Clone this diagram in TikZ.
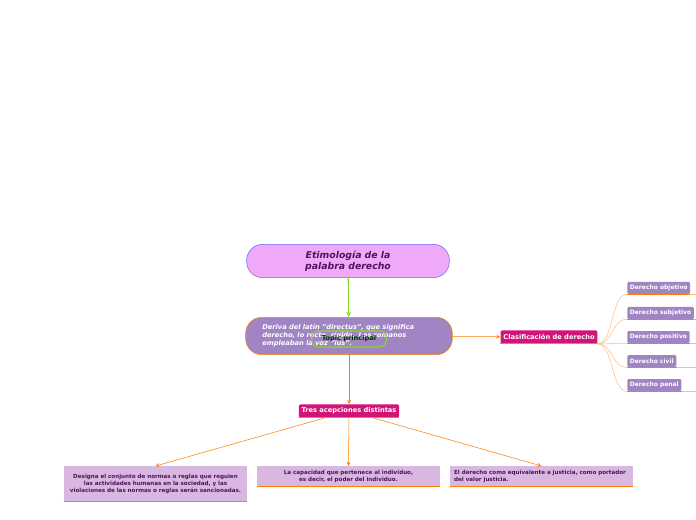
\documentclass[tikz,border=0pt]{standalone}
\usepackage{fontspec}
\setmainfont{DejaVu Sans}
\definecolor{rose}{RGB}{240,168,248}
\definecolor{violet}{RGB}{160,132,196}
\definecolor{magenta}{RGB}{210,20,120}
\definecolor{lilas}{RGB}{216,184,224}
\definecolor{vert}{RGB}{140,216,40}
\definecolor{encre}{RGB}{80,20,90}
\hyphenpenalty=10000
\begin{document}
\begin{tikzpicture}[x=0.75pt,y=-0.75pt]
		\tikzstyle{racine} = [rounded corners=12pt,draw=blue!60,fill=rose,minimum width=152pt,minimum height=25pt,text width=110pt,align=center,font=\bfseries\itshape\fontsize{7}{8}\selectfont,text=encre]
		\tikzstyle{central} = [rounded corners=12pt,draw=orange,fill=violet,minimum width=155pt,minimum height=28pt,text width=130pt,align=left,font=\bfseries\itshape\fontsize{5}{6}\selectfont,text=white]
		\tikzstyle{titre} = [fill=magenta,text=white,font=\bfseries\fontsize{5}{6}\selectfont,inner sep=2pt,minimum height=10pt,rounded corners=1pt]
		\tikzstyle{feuille} = [fill=violet,text=white,font=\bfseries\fontsize{4.5}{6}\selectfont,inner sep=2pt,minimum height=9pt,rounded corners=1pt]
		\tikzstyle{texte} = [fill=lilas,font=\bfseries\fontsize{4.2}{5.2}\selectfont,text=encre,inner sep=2pt,anchor=north]
		\tikzstyle{fleche} = [->,>=stealth,orange]
		\tikzstyle{souligne} = [orange,thick]
		\tikzstyle{branche} = [orange!50]
		
		\useasboundingbox (0,0) rectangle (696,520);
		
		\node[racine](Etym) at (348,261) {Etimología de la palabra derecho};
		\node[central](Deriva) at (349,336) {Deriva del latín "directus", que significa derecho, lo recto, rígido. Los romanos empleaban la voz "ius".};
		\node[draw=vert,thick,rounded corners=5pt,minimum width=56pt,minimum height=12pt,font=\bfseries\fontsize{5}{6}\selectfont,text=black!80!green](Topic) at (349,339) {Topic principal};
		
		\node[titre](Tres) at (349,411) {Tres acepciones distintas};
		\node[titre](Clasif) at (549,337) {Clasificación de derecho};
		
		\node[texte,minimum width=137pt,minimum height=26pt,text width=131pt,align=center](Designa) at (155.5,466) {Designa el conjunto de normas o reglas que reguien las actividades humanas en la sociedad,  y las violaciones de las normas o reglas serán sancionadas.};
		\node[texte,minimum width=137pt,minimum height=15pt,text width=131pt,align=center](Capacidad) at (348.5,466) {La capacidad que pertenece al individuo, es decir, el poder del individuo.};
		\node[texte,minimum width=137pt,minimum height=15pt,text width=131pt,align=left](Justicia) at (541.5,466) {El derecho como equivalente a justicia, como portador del valor justicia.};
		
		\node[feuille,anchor=west](Objetivo) at (627,288) {Derecho objetivo};
		\node[feuille,anchor=west](Subjetivo) at (627,313) {Derecho subjetivo};
		\node[feuille,anchor=west](Positivo) at (627,337) {Derecho positivo};
		\node[feuille,anchor=west](Civil) at (627,361) {Derecho civil};
		\node[feuille,anchor=west](Penal) at (627,385) {Derecho penal};
		
		\draw[->,>=stealth,vert,thick] (Etym) -- (Deriva);
		\draw[fleche] (Deriva) -- (Tres);
		\draw[fleche] (Deriva) -- (Clasif);
		\draw[fleche] (Tres) -- (Designa.north);
		\draw[fleche] (Tres) -- (Capacidad.north);
		\draw[fleche] (Tres) -- (Justicia.north);
		
		\draw[souligne] (Tres.south west) -- (Tres.south east);
		\draw[souligne] (Clasif.south west) -- (Clasif.south east);
		\draw[souligne] (Designa.south west) -- (Designa.south east);
		\draw[souligne] (Capacidad.south west) -- (Capacidad.south east);
		\draw[souligne] (Justicia.south west) -- (Justicia.south east);
		\foreach \f in {Objetivo,Subjetivo,Positivo,Civil,Penal}
		{
			\draw[souligne,thin] (\f.south west) -- (\f.south east);
			\draw[branche] (Clasif.south east) .. controls ([xshift=12pt]Clasif.south east) and ([xshift=-12pt]\f.south west) .. (\f.south west);
			\draw[branche] (\f.south east) -- ++(30,0);
		}
		\end{tikzpicture}
\end{document}
